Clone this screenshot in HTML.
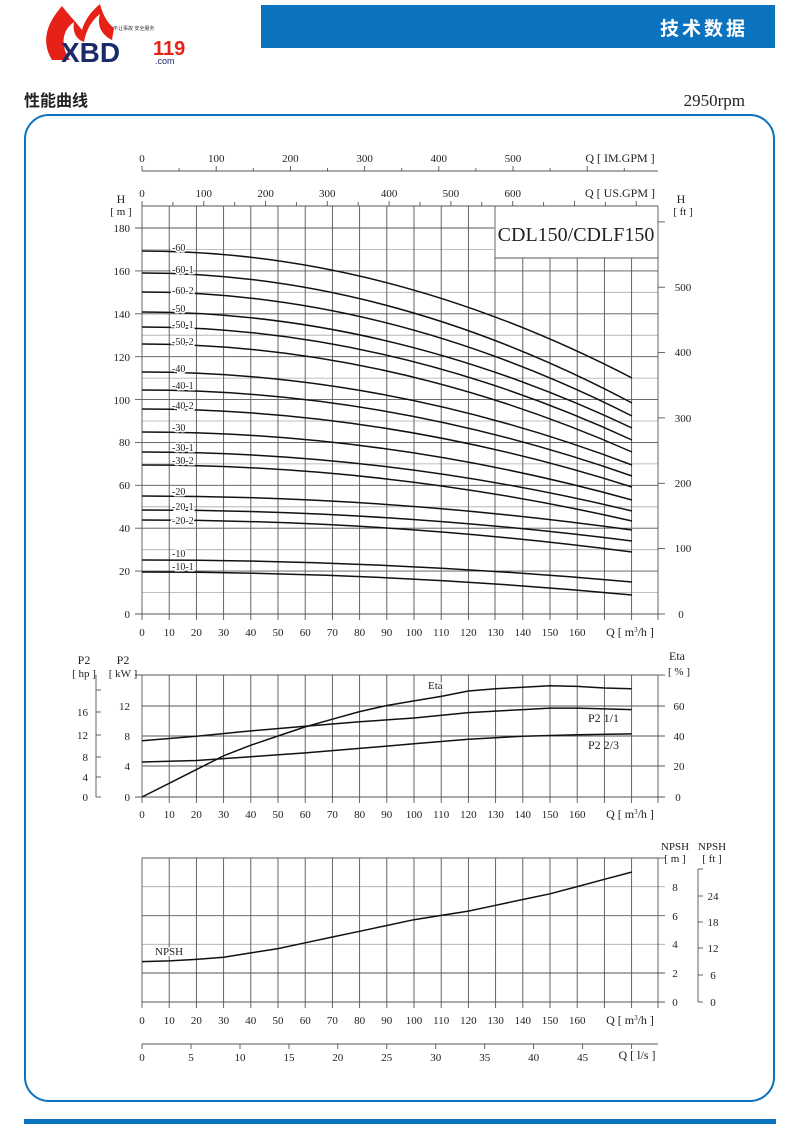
<!DOCTYPE html>
<html><head><meta charset="utf-8"><style>
html,body{margin:0;padding:0;background:#fff}
svg{display:block}
text{font-family:"Liberation Serif",serif;fill:#222}
.t{font-size:11px}
.g{stroke:#555;stroke-width:0.9}
.l{stroke:#aaa;stroke-width:0.8}
.c{fill:none;stroke:#111;stroke-width:1.5}
.lb{font-size:10px;paint-order:stroke;stroke:#fff;stroke-width:3px}
</style></head><body>
<svg width="790" height="1128" viewBox="0 0 790 1128" xmlns="http://www.w3.org/2000/svg">
<!-- header -->
<path d="M62,6 C48,22 40,40 52,60 L70,60 C60,46 62,30 74,22 C72,34 78,40 84,42 C86,30 92,20 100,14 C96,28 104,36 112,40 L114,28 C106,22 102,12 100,4 C90,12 84,22 82,30 C76,22 68,14 62,6Z" fill="#e62117"/>
<text x="61" y="62" style="font-family:'Liberation Sans',sans-serif;font-weight:bold;font-size:28px;fill:#1b2a6b">XBD</text>
<text x="153" y="55" style="font-family:'Liberation Sans',sans-serif;font-weight:bold;font-size:20px;fill:#e62117">119</text>
<text x="155" y="64" style="font-family:'Liberation Sans',sans-serif;font-size:9px;fill:#1b2a6b">.com</text>
<text x="113" y="30" style="font-family:'Liberation Sans','Noto Sans CJK SC',sans-serif;font-size:5px;fill:#333">不让事故  安全服务</text>
<rect x="261" y="5" width="514" height="43" fill="#0a72bf"/>
<text x="748" y="35" text-anchor="end" style="font-family:'Liberation Sans','Noto Sans CJK SC',sans-serif;font-weight:bold;font-size:19px;fill:#fff;letter-spacing:3px">技术数据</text>
<text x="24" y="106" style="font-family:'Liberation Sans','Noto Sans CJK SC',sans-serif;font-weight:bold;font-size:16px;fill:#222">性能曲线</text>
<text x="745" y="106" text-anchor="end" style="font-size:17px">2950rpm</text>
<rect x="25" y="115" width="749" height="986" rx="24" fill="none" stroke="#0a72bf" stroke-width="2"/>
<rect x="24" y="1119" width="752" height="5" fill="#0a72bf"/>

<!-- ===== main chart ===== -->
<g>
<!-- light horizontal 10m lines -->
<g class="l">
<line x1="142" y1="592.6" x2="658" y2="592.6"/><line x1="142" y1="549.7" x2="658" y2="549.7"/><line x1="142" y1="506.8" x2="658" y2="506.8"/><line x1="142" y1="463.9" x2="658" y2="463.9"/><line x1="142" y1="421" x2="658" y2="421"/><line x1="142" y1="378.1" x2="658" y2="378.1"/><line x1="142" y1="335.2" x2="658" y2="335.2"/><line x1="142" y1="292.3" x2="658" y2="292.3"/><line x1="142" y1="249.4" x2="494" y2="249.4"/>
</g>
<g class="g">
<line x1="135" y1="614" x2="658" y2="614"/><line x1="135" y1="571.1" x2="658" y2="571.1"/><line x1="135" y1="528.2" x2="658" y2="528.2"/><line x1="135" y1="485.3" x2="658" y2="485.3"/><line x1="135" y1="442.4" x2="658" y2="442.4"/><line x1="135" y1="399.6" x2="658" y2="399.6"/><line x1="135" y1="356.7" x2="658" y2="356.7"/><line x1="135" y1="313.8" x2="658" y2="313.8"/><line x1="135" y1="270.9" x2="658" y2="270.9"/><line x1="135" y1="228" x2="494" y2="228"/>
<line x1="142" y1="206" x2="658" y2="206"/>
<line x1="142" y1="206" x2="142" y2="620"/><line x1="169.2" y1="206" x2="169.2" y2="620"/><line x1="196.4" y1="206" x2="196.4" y2="620"/><line x1="223.6" y1="206" x2="223.6" y2="620"/><line x1="250.8" y1="206" x2="250.8" y2="620"/><line x1="278" y1="206" x2="278" y2="620"/><line x1="305.2" y1="206" x2="305.2" y2="620"/><line x1="332.4" y1="206" x2="332.4" y2="620"/><line x1="359.6" y1="206" x2="359.6" y2="620"/><line x1="386.8" y1="206" x2="386.8" y2="620"/><line x1="414" y1="206" x2="414" y2="620"/><line x1="441.2" y1="206" x2="441.2" y2="620"/><line x1="468.4" y1="206" x2="468.4" y2="620"/><line x1="495" y1="206" x2="495" y2="620"/><line x1="522.8" y1="258" x2="522.8" y2="620"/><line x1="550" y1="258" x2="550" y2="620"/><line x1="577.2" y1="258" x2="577.2" y2="620"/><line x1="604.4" y1="258" x2="604.4" y2="620"/><line x1="631.6" y1="258" x2="631.6" y2="620"/><line x1="658" y1="206" x2="658" y2="620"/>
<line x1="495" y1="258" x2="658" y2="258"/>
<!-- ft ticks -->
<line x1="658" y1="614" x2="665" y2="614"/><line x1="658" y1="548.6" x2="665" y2="548.6"/><line x1="658" y1="483.3" x2="665" y2="483.3"/><line x1="658" y1="417.9" x2="665" y2="417.9"/><line x1="658" y1="352.6" x2="665" y2="352.6"/><line x1="658" y1="287.2" x2="665" y2="287.2"/><line x1="658" y1="221.9" x2="665" y2="221.9"/>
<!-- US GPM ticks -->
<line x1="142" y1="206" x2="142" y2="201"/><line x1="172.9" y1="206" x2="172.9" y2="202"/><line x1="203.8" y1="206" x2="203.8" y2="201"/><line x1="234.7" y1="206" x2="234.7" y2="202"/><line x1="265.6" y1="206" x2="265.6" y2="201"/><line x1="296.4" y1="206" x2="296.4" y2="202"/><line x1="327.3" y1="206" x2="327.3" y2="201"/><line x1="358.2" y1="206" x2="358.2" y2="202"/><line x1="389.1" y1="206" x2="389.1" y2="201"/><line x1="420" y1="206" x2="420" y2="202"/><line x1="450.9" y1="206" x2="450.9" y2="201"/><line x1="481.8" y1="206" x2="481.8" y2="202"/><line x1="512.7" y1="206" x2="512.7" y2="201"/><line x1="543.6" y1="206" x2="543.6" y2="202"/><line x1="574.5" y1="206" x2="574.5" y2="201"/><line x1="605.4" y1="206" x2="605.4" y2="202"/><line x1="636.2" y1="206" x2="636.2" y2="201"/>
<!-- IM GPM axis -->
<line x1="142" y1="171" x2="658" y2="171"/>
<line x1="142" y1="171" x2="142" y2="166"/><line x1="179.1" y1="171" x2="179.1" y2="168"/><line x1="216.2" y1="171" x2="216.2" y2="166"/><line x1="253.3" y1="171" x2="253.3" y2="168"/><line x1="290.4" y1="171" x2="290.4" y2="166"/><line x1="327.5" y1="171" x2="327.5" y2="168"/><line x1="364.6" y1="171" x2="364.6" y2="166"/><line x1="401.7" y1="171" x2="401.7" y2="168"/><line x1="438.8" y1="171" x2="438.8" y2="166"/><line x1="475.9" y1="171" x2="475.9" y2="168"/><line x1="513" y1="171" x2="513" y2="166"/><line x1="550.1" y1="171" x2="550.1" y2="168"/><line x1="587.2" y1="171" x2="587.2" y2="166"/><line x1="624.3" y1="171" x2="624.3" y2="168"/>
</g>
<text x="576" y="241" text-anchor="middle" style="font-size:20px">CDL150/CDLF150</text>
<g class="t" text-anchor="middle">
<text x="142" y="162">0</text><text x="216.2" y="162">100</text><text x="290.4" y="162">200</text><text x="364.6" y="162">300</text><text x="438.8" y="162">400</text><text x="513" y="162">500</text>
<text x="142" y="197">0</text><text x="203.8" y="197">100</text><text x="265.6" y="197">200</text><text x="327.3" y="197">300</text><text x="389.1" y="197">400</text><text x="450.9" y="197">500</text><text x="512.7" y="197">600</text>
</g>
<text x="620" y="162" text-anchor="middle" style="font-size:12px">Q [ IM.GPM ]</text>
<text x="620" y="197" text-anchor="middle" style="font-size:12px">Q [ US.GPM ]</text>
<text x="121" y="203" text-anchor="middle" style="font-size:12px">H</text>
<text x="121" y="215" text-anchor="middle" class="t">[ m ]</text>
<text x="681" y="203" text-anchor="middle" style="font-size:12px">H</text>
<text x="683" y="215" text-anchor="middle" class="t">[ ft ]</text>
<g class="t" text-anchor="end">
<text x="130" y="618">0</text><text x="130" y="575">20</text><text x="130" y="532">40</text><text x="130" y="489">60</text><text x="130" y="446">80</text><text x="130" y="404">100</text><text x="130" y="361">120</text><text x="130" y="318">140</text><text x="130" y="275">160</text><text x="130" y="232">180</text>
</g>
<g class="t" text-anchor="middle">
<text x="681" y="618">0</text><text x="683" y="552">100</text><text x="683" y="487">200</text><text x="683" y="422">300</text><text x="683" y="356">400</text><text x="683" y="291">500</text>
</g>
<g class="t" text-anchor="middle">
<text x="142" y="636">0</text><text x="169.2" y="636">10</text><text x="196.4" y="636">20</text><text x="223.6" y="636">30</text><text x="250.8" y="636">40</text><text x="278" y="636">50</text><text x="305.2" y="636">60</text><text x="332.4" y="636">70</text><text x="359.6" y="636">80</text><text x="386.8" y="636">90</text><text x="414" y="636">100</text><text x="441.2" y="636">110</text><text x="468.4" y="636">120</text><text x="495.6" y="636">130</text><text x="522.8" y="636">140</text><text x="550" y="636">150</text><text x="577.2" y="636">160</text>
</g>
<text x="630" y="636" text-anchor="middle" style="font-size:12px">Q [ m<tspan font-size="7" dy="-4">3</tspan><tspan dy="4">/h ]</tspan></text>
<!-- pump curves -->
<g class="c">
<path d="M142,251 Q387,251 632,378"/><path d="M142,273 Q387,273 632,403"/><path d="M142,292 Q387,292 632,416"/><path d="M142,312 Q387,312 632,428"/><path d="M142,327 Q387,327 632,440"/><path d="M142,344 Q387,344 632,452"/><path d="M142,372 Q387,372 632,465"/><path d="M142,390 Q387,390 632,476"/><path d="M142,409 Q387,409 632,487"/><path d="M142,432 Q387,432 632,500"/><path d="M142,452 Q387,452 632,511"/><path d="M142,465 Q387,465 632,521"/><path d="M142,496 Q387,496 632,530"/><path d="M142,510 Q387,510 632,541"/><path d="M142,520 Q387,520 632,552"/><path d="M142,560 Q387,560 632,582"/><path d="M142,572 Q387,572 632,595"/>
</g>
<g class="lb">
<text x="172" y="251">-60</text><text x="172" y="273">-60-1</text><text x="172" y="294">-60-2</text><text x="172" y="312">-50</text><text x="172" y="328">-50-1</text><text x="172" y="345">-50-2</text><text x="172" y="372">-40</text><text x="172" y="389">-40-1</text><text x="172" y="409">-40-2</text><text x="172" y="431">-30</text><text x="172" y="451">-30-1</text><text x="172" y="464">-30-2</text><text x="172" y="495">-20</text><text x="172" y="510">-20-1</text><text x="172" y="524">-20-2</text><text x="172" y="557">-10</text><text x="172" y="570">-10-1</text>
</g>
</g>

<!-- ===== power / eta chart ===== -->
<g class="g">
<line x1="135" y1="675" x2="658" y2="675"/><line x1="142" y1="706" x2="665" y2="706"/><line x1="142" y1="736" x2="665" y2="736"/><line x1="142" y1="766" x2="665" y2="766"/><line x1="135" y1="797" x2="665" y2="797"/>
<line x1="142" y1="675" x2="142" y2="803"/><line x1="169.2" y1="675" x2="169.2" y2="803"/><line x1="196.4" y1="675" x2="196.4" y2="803"/><line x1="223.6" y1="675" x2="223.6" y2="803"/><line x1="250.8" y1="675" x2="250.8" y2="803"/><line x1="278" y1="675" x2="278" y2="803"/><line x1="305.2" y1="675" x2="305.2" y2="803"/><line x1="332.4" y1="675" x2="332.4" y2="803"/><line x1="359.6" y1="675" x2="359.6" y2="803"/><line x1="386.8" y1="675" x2="386.8" y2="803"/><line x1="414" y1="675" x2="414" y2="803"/><line x1="441.2" y1="675" x2="441.2" y2="803"/><line x1="468.4" y1="675" x2="468.4" y2="803"/><line x1="495.6" y1="675" x2="495.6" y2="803"/><line x1="522.8" y1="675" x2="522.8" y2="803"/><line x1="550" y1="675" x2="550" y2="803"/><line x1="577.2" y1="675" x2="577.2" y2="803"/><line x1="604.4" y1="675" x2="604.4" y2="803"/><line x1="631.6" y1="675" x2="631.6" y2="803"/><line x1="658" y1="675" x2="658" y2="803"/>
<line x1="658" y1="675" x2="665" y2="675"/>
<!-- hp axis -->
<line x1="96" y1="675" x2="96" y2="797"/><line x1="96" y1="797" x2="101" y2="797"/><line x1="96" y1="777" x2="101" y2="777"/><line x1="96" y1="757" x2="101" y2="757"/><line x1="96" y1="735" x2="101" y2="735"/><line x1="96" y1="712" x2="101" y2="712"/><line x1="96" y1="690" x2="101" y2="690"/>
</g>
<text x="84" y="664" text-anchor="middle" style="font-size:12px">P2</text>
<text x="84" y="677" text-anchor="middle" class="t">[ hp ]</text>
<text x="123" y="664" text-anchor="middle" style="font-size:12px">P2</text>
<text x="123" y="677" text-anchor="middle" class="t">[ kW ]</text>
<text x="677" y="660" text-anchor="middle" style="font-size:12px">Eta</text>
<text x="679" y="675" text-anchor="middle" class="t">[ % ]</text>
<g class="t" text-anchor="end">
<text x="88" y="801">0</text><text x="88" y="781">4</text><text x="88" y="761">8</text><text x="88" y="739">12</text><text x="88" y="716">16</text>
<text x="130" y="801">0</text><text x="130" y="770">4</text><text x="130" y="740">8</text><text x="130" y="710">12</text>
</g>
<g class="t" text-anchor="middle">
<text x="678" y="801">0</text><text x="679" y="770">20</text><text x="679" y="740">40</text><text x="679" y="710">60</text>
</g>
<g class="t" text-anchor="middle">
<text x="142" y="818">0</text><text x="169.2" y="818">10</text><text x="196.4" y="818">20</text><text x="223.6" y="818">30</text><text x="250.8" y="818">40</text><text x="278" y="818">50</text><text x="305.2" y="818">60</text><text x="332.4" y="818">70</text><text x="359.6" y="818">80</text><text x="386.8" y="818">90</text><text x="414" y="818">100</text><text x="441.2" y="818">110</text><text x="468.4" y="818">120</text><text x="495.6" y="818">130</text><text x="522.8" y="818">140</text><text x="550" y="818">150</text><text x="577.2" y="818">160</text>
</g>
<text x="630" y="818" text-anchor="middle" style="font-size:12px">Q [ m<tspan font-size="7" dy="-4">3</tspan><tspan dy="4">/h ]</tspan></text>
<g class="c">
<polyline points="142,797 169.2,783.3 196.4,769.6 223.6,755.8 250.8,745.2 278,736 305.2,726.9 332.4,719.2 359.6,711.6 386.8,705.5 414,700.9 441.2,696.4 468.4,691 495.6,688.7 522.8,687.2 550,685.7 577.2,686.4 604.4,688 631.6,688.7"/>
<polyline points="142,740.8 196.4,736.2 250.8,730.9 305.2,726.3 359.6,721.8 414,718 468.4,712.6 522.8,709.6 550,708.1 577.2,708.1 631.6,709.6"/>
<polyline points="142,762 196.4,760.5 250.8,756.7 305.2,752.9 359.6,748.4 414,743.8 468.4,739.2 522.8,736.2 577.2,734.7 631.6,733.9"/>
</g>
<text x="428" y="689" class="lb" style="font-size:11px">Eta</text>
<text x="588" y="722" style="font-size:12px">P2  1/1</text>
<text x="588" y="749" style="font-size:12px">P2  2/3</text>

<!-- ===== NPSH chart ===== -->
<g class="l">
<line x1="142" y1="886.7" x2="665" y2="886.7"/><line x1="142" y1="944.3" x2="665" y2="944.3"/>
</g>
<g class="g">
<line x1="142" y1="858" x2="658" y2="858"/><line x1="142" y1="915.7" x2="665" y2="915.7"/><line x1="142" y1="973" x2="665" y2="973"/><line x1="142" y1="1002" x2="665" y2="1002"/>
<line x1="142" y1="858" x2="142" y2="1008"/><line x1="169.2" y1="858" x2="169.2" y2="1008"/><line x1="196.4" y1="858" x2="196.4" y2="1008"/><line x1="223.6" y1="858" x2="223.6" y2="1008"/><line x1="250.8" y1="858" x2="250.8" y2="1008"/><line x1="278" y1="858" x2="278" y2="1008"/><line x1="305.2" y1="858" x2="305.2" y2="1008"/><line x1="332.4" y1="858" x2="332.4" y2="1008"/><line x1="359.6" y1="858" x2="359.6" y2="1008"/><line x1="386.8" y1="858" x2="386.8" y2="1008"/><line x1="414" y1="858" x2="414" y2="1008"/><line x1="441.2" y1="858" x2="441.2" y2="1008"/><line x1="468.4" y1="858" x2="468.4" y2="1008"/><line x1="495.6" y1="858" x2="495.6" y2="1008"/><line x1="522.8" y1="858" x2="522.8" y2="1008"/><line x1="550" y1="858" x2="550" y2="1008"/><line x1="577.2" y1="858" x2="577.2" y2="1008"/><line x1="604.4" y1="858" x2="604.4" y2="1008"/><line x1="631.6" y1="858" x2="631.6" y2="1008"/><line x1="658" y1="858" x2="658" y2="1008"/>
<line x1="658" y1="858" x2="665" y2="858"/>
<line x1="698" y1="869" x2="698" y2="1002"/><line x1="698" y1="1002" x2="703" y2="1002"/><line x1="698" y1="975" x2="703" y2="975"/><line x1="698" y1="948" x2="703" y2="948"/><line x1="698" y1="922" x2="703" y2="922"/><line x1="698" y1="896" x2="703" y2="896"/><line x1="698" y1="869" x2="703" y2="869"/>
<!-- l/s axis -->
<line x1="142" y1="1044" x2="658" y2="1044"/>
<line x1="142" y1="1044" x2="142" y2="1049"/><line x1="191" y1="1044" x2="191" y2="1049"/><line x1="240" y1="1044" x2="240" y2="1049"/><line x1="289" y1="1044" x2="289" y2="1049"/><line x1="337.8" y1="1044" x2="337.8" y2="1049"/><line x1="386.8" y1="1044" x2="386.8" y2="1049"/><line x1="435.7" y1="1044" x2="435.7" y2="1049"/><line x1="484.7" y1="1044" x2="484.7" y2="1049"/><line x1="533.6" y1="1044" x2="533.6" y2="1049"/><line x1="582.6" y1="1044" x2="582.6" y2="1049"/><line x1="631.6" y1="1044" x2="631.6" y2="1049"/>
</g>
<polyline class="c" points="142,961.6 169.2,960.9 196.4,959.4 223.6,957.3 250.8,952.9 278,948.6 305.2,942.8 332.4,937 359.6,931.3 386.8,925.5 414,919.7 441.2,915.4 468.4,911.1 495.6,905.3 522.8,899.5 550,893.8 577.2,886.6 604.4,879.3 631.6,872.1"/>
<text x="155" y="955" class="lb" style="font-size:11px">NPSH</text>
<text x="675" y="850" text-anchor="middle" class="t">NPSH</text>
<text x="675" y="862" text-anchor="middle" class="t">[ m ]</text>
<text x="712" y="850" text-anchor="middle" class="t">NPSH</text>
<text x="712" y="862" text-anchor="middle" class="t">[ ft ]</text>
<g class="t" text-anchor="middle">
<text x="675" y="1006">0</text><text x="675" y="977">2</text><text x="675" y="948">4</text><text x="675" y="920">6</text><text x="675" y="891">8</text>
<text x="713" y="1006">0</text><text x="713" y="979">6</text><text x="713" y="952">12</text><text x="713" y="926">18</text><text x="713" y="900">24</text>
</g>
<g class="t" text-anchor="middle">
<text x="142" y="1024">0</text><text x="169.2" y="1024">10</text><text x="196.4" y="1024">20</text><text x="223.6" y="1024">30</text><text x="250.8" y="1024">40</text><text x="278" y="1024">50</text><text x="305.2" y="1024">60</text><text x="332.4" y="1024">70</text><text x="359.6" y="1024">80</text><text x="386.8" y="1024">90</text><text x="414" y="1024">100</text><text x="441.2" y="1024">110</text><text x="468.4" y="1024">120</text><text x="495.6" y="1024">130</text><text x="522.8" y="1024">140</text><text x="550" y="1024">150</text><text x="577.2" y="1024">160</text>
</g>
<text x="630" y="1024" text-anchor="middle" style="font-size:12px">Q [ m<tspan font-size="7" dy="-4">3</tspan><tspan dy="4">/h ]</tspan></text>
<g class="t" text-anchor="middle">
<text x="142" y="1061">0</text><text x="191" y="1061">5</text><text x="240" y="1061">10</text><text x="289" y="1061">15</text><text x="337.8" y="1061">20</text><text x="386.8" y="1061">25</text><text x="435.7" y="1061">30</text><text x="484.7" y="1061">35</text><text x="533.6" y="1061">40</text><text x="582.6" y="1061">45</text>
</g>
<text x="637" y="1059" text-anchor="middle" style="font-size:12px">Q [ l/s ]</text>
</svg>
</body></html>
